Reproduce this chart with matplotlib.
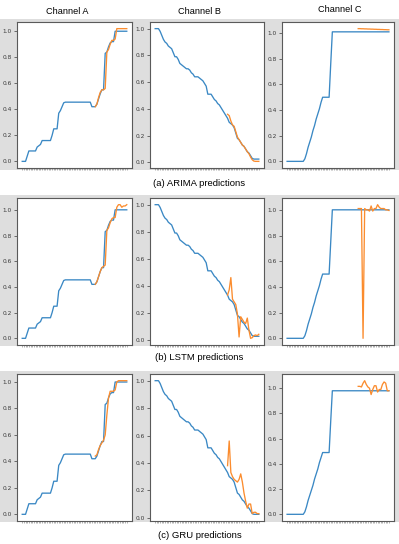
import matplotlib
matplotlib.use("Agg")
import matplotlib.pyplot as plt
from matplotlib.patches import Rectangle

# ---------------- data ----------------
channels = ["Channel A", "Channel B", "Channel C"]
captions = ["(a) ARIMA predictions", "(b) LSTM predictions", "(c) GRU predictions"]
yticks = [0.0, 0.2, 0.4, 0.6, 0.8, 1.0]

truth_A = [0.0, 0.0, 0.0, 0.04, 0.08, 0.08, 0.08, 0.08, 0.08, 0.11,
           0.12, 0.13, 0.16, 0.16, 0.16, 0.16, 0.16, 0.16, 0.20, 0.25,
           0.25, 0.25, 0.37, 0.39, 0.42, 0.45,
           0.455, 0.455, 0.455, 0.455, 0.455, 0.455, 0.455, 0.455,
           0.455, 0.455, 0.455, 0.455, 0.455, 0.455, 0.455, 0.455,
           0.42, 0.42, 0.42, 0.44, 0.48, 0.52, 0.55, 0.55, 0.83, 0.84,
           0.88, 0.91, 0.92, 0.92,
           1.0, 1.0, 1.0, 1.0, 1.0, 1.0, 1.0, 1.0]

truth_B = [1.0, 1.0, 1.0, 0.98, 0.95, 0.92, 0.90, 0.89, 0.87, 0.86,
           0.85, 0.82, 0.79, 0.79, 0.77, 0.74, 0.73, 0.72, 0.71, 0.70,
           0.70, 0.69, 0.67, 0.66, 0.64, 0.64, 0.64, 0.63, 0.62, 0.61,
           0.59, 0.57, 0.51, 0.51, 0.51, 0.49, 0.47, 0.46, 0.44, 0.43,
           0.41, 0.39, 0.37, 0.35, 0.33, 0.30, 0.29, 0.28, 0.26, 0.22,
           0.18, 0.17, 0.15, 0.13, 0.12, 0.10, 0.08, 0.07, 0.05, 0.03,
           0.025, 0.025, 0.025, 0.025]

truth_C_arima = [0.0] * 11 + [0.02, 0.06, 0.11, 0.15, 0.19, 0.24, 0.28, 0.33, 0.37, 0.41, 0.46,
                              0.50, 0.50, 0.50, 0.50, 0.50, 0.76] + [1.01] * 36
truth_C_lstm = [0.0] * 11 + [0.02, 0.06, 0.11, 0.15, 0.19, 0.24, 0.28, 0.33, 0.37, 0.41, 0.46,
                             0.50, 0.50, 0.50, 0.50, 0.50, 0.75] + [1.0] * 36
truth_C_gru = [0.0] * 11 + [0.02, 0.06, 0.11, 0.15, 0.19, 0.23, 0.28, 0.32, 0.36, 0.41, 0.45,
                            0.49, 0.49, 0.49, 0.49, 0.49, 0.74] + [0.98] * 36

arima_A = [0.42, 0.44, 0.49, 0.53, 0.55, 0.55, 0.56, 0.84, 0.86, 0.90,
           0.93, 0.93, 0.94, 1.02, 1.02, 1.02, 1.02, 1.02, 1.02, 1.02]
lstm_A = [0.42, 0.44, 0.48, 0.52, 0.55, 0.56, 0.57, 0.84, 0.86, 0.90,
          0.93, 0.94, 0.94, 1.02, 1.04, 1.04, 1.02, 1.03, 1.03, 1.04]
gru_A = [0.44, 0.45, 0.49, 0.52, 0.54, 0.56, 0.60, 0.75, 0.88, 0.93,
         0.93, 0.93, 0.94, 1.0, 1.01, 1.01, 1.01, 1.01, 1.01, 1.01]

arima_B = [0.36, 0.35, 0.31, 0.28, 0.27, 0.23, 0.19, 0.17, 0.15, 0.13,
           0.12, 0.10, 0.08, 0.065, 0.04, 0.02, 0.01, 0.008, 0.008, 0.008]
lstm_B = [0.33, 0.37, 0.46, 0.30, 0.28, 0.26, 0.19, 0.02, 0.17, 0.15,
          0.13, 0.12, 0.16, 0.07, 0.01, 0.015, 0.03, 0.035, 0.03, 0.04]
gru_B = [0.38, 0.56, 0.33, 0.30, 0.28, 0.27, 0.26, 0.28, 0.32, 0.26,
         0.18, 0.12, 0.07, 0.10, 0.10, 0.03, 0.04, 0.04, 0.03, 0.03]

arima_C = [1.035, 1.035, 1.034, 1.034, 1.033, 1.033, 1.032, 1.032, 1.031, 1.031,
           1.030, 1.030, 1.029, 1.029, 1.028, 1.028, 1.027, 1.027, 1.026, 1.026]
lstm_C = [1.01, 1.01, 1.01, 0.0, 1.01, 1.0, 1.0, 0.99, 1.03, 0.99,
          1.01, 1.01, 1.04, 1.02, 1.01, 1.01, 1.01, 1.0, 1.0, 0.995]
gru_C = [1.015, 1.015, 1.01, 1.04, 1.06, 1.03, 1.01, 1.0, 0.95, 0.99,
         1.02, 1.02, 0.97, 0.99, 0.99, 1.03, 1.05, 1.04, 0.98, 0.98]

rows = [
    [(truth_A, arima_A), (truth_B, arima_B), (truth_C_arima, arima_C)],
    [(truth_A, lstm_A), (truth_B, lstm_B), (truth_C_lstm, lstm_C)],
    [(truth_A, gru_A), (truth_B, gru_B), (truth_C_gru, gru_C)],
]

# ---------------- layout (pixels) ----------------
W, H = 399, 544
BLUE = "#3a88c4"
ORANGE = "#fb8c2e"
band_y = [(19, 170), (195, 346), (371, 522)]
axes_y = [(22, 168), (198, 345), (374, 521)]
axes_x = [(17, 132), (150, 264), (282, 394)]
caption_y = [183, 357, 535]
title_pos = [(67, 11), (200, 11), (340, 9)]

fig = plt.figure(figsize=(W / 100, H / 100), dpi=100)
fig.patch.set_facecolor("white")

def fx(px):
    return px / W

def fy(py):
    return 1 - py / H

for (y0, y1) in band_y:
    fig.patches.append(Rectangle((0, fy(y1)), 1, (y1 - y0) / H, transform=fig.transFigure,
                                 facecolor="#dedede", edgecolor="none", zorder=-5))

for r, row in enumerate(rows):
    ay0, ay1 = axes_y[r]
    for c, (truth, pred) in enumerate(row):
        ax0, ax1 = axes_x[c]
        ax = fig.add_axes([fx(ax0), fy(ay1), (ax1 - ax0) / W, (ay1 - ay0) / H])
        ax.set_facecolor("white")
        x = list(range(len(truth)))
        start = len(truth) - len(pred)
        px_ = list(range(start, len(truth)))
        ax.plot(x, truth, color=BLUE, lw=0.95)
        ax.plot(px_, pred, color=ORANGE, lw=0.95)
        ax.set_yticks(yticks)
        ax.set_yticklabels([f"{v:.1f}" for v in yticks])
        ax.set_xticks(x)
        ax.set_xticklabels([])
        ax.tick_params(axis="y", labelsize=4.2, length=2, width=0.5, pad=1.5, colors="#3a3a3a")
        ax.tick_params(axis="x", length=1.5, width=0.4, colors="#777777")
        for s in ax.spines.values():
            s.set_color("#5a5a5a")
            s.set_linewidth(0.8)
    fig.text(0.5, fy(caption_y[r]), captions[r], ha="center", va="center",
             fontsize=6.8, family="Liberation Sans")

for (tx, ty), name in zip(title_pos, channels):
    fig.text(fx(tx), fy(ty), name, ha="center", va="center", fontsize=6.6,
             family="Liberation Sans")

fig.savefig("out.png", dpi=100, facecolor="white")
